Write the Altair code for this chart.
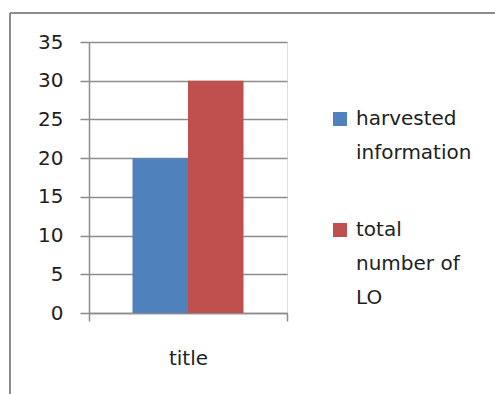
import altair as alt
import pandas as pd

# ---- data ----
categories = ["title"]
series = ["harvested information", "total number of LO"]
values = [20, 30]
legend_lines = {
    "harvested information": ["harvested", "information"],
    "total number of LO": ["total", "number of", "LO"],
}
y_ticks = [0, 5, 10, 15, 20, 25, 30, 35]
colors = ["#4F81BD", "#C0504D"]

df = pd.DataFrame({
    "category": [categories[0]] * len(series),
    "series": series,
    "value": values,
})

# labelExpr that breaks legend labels into lines
parts = []
for name, lines in legend_lines.items():
    arr = "[" + ", ".join("'" + l + "'" for l in lines) + "]"
    parts.append(f"datum.label == '{name}' ? {arr} : ")
label_expr = "".join(parts) + "datum.label"

FONT = "DejaVu Sans"
GRAY = "#8c8c8c"
TEXT = "#1e1e1e"

W, H = 198, 271
PAD_L, PAD_T = 89, 42
PAD_R = 495 - PAD_L - W
PAD_B = 394 - PAD_T - H

# square legend swatch whose bottom sits on the label baseline
SWATCH = "M-1,-1.86H1V0.14H-1Z"

bars = alt.Chart(df).mark_bar().encode(
    x=alt.X(
        "category:N",
        scale=alt.Scale(paddingInner=0, paddingOuter=0),
        axis=alt.Axis(
            title=None, labelAngle=0, tickBand="extent", tickSize=8,
            labelPadding=27, labelFont=FONT, labelFontSize=20, labelColor=TEXT,
            domainColor=GRAY, tickColor=GRAY, domainWidth=1.5, tickWidth=1.5,
            grid=False,
        ),
    ),
    xOffset=alt.XOffset(
        "series:N", sort=series,
        scale=alt.Scale(paddingInner=0, paddingOuter=0.784),
    ),
    y=alt.Y(
        "value:Q",
        scale=alt.Scale(domain=[0, 35], nice=False),
        axis=alt.Axis(
            title=None, values=y_ticks, grid=True, gridColor=GRAY, gridWidth=1.5,
            tickSize=9, labelPadding=17, labelFont=FONT, labelFontSize=20,
            labelColor=TEXT, domainColor=GRAY, tickColor=GRAY,
            domainWidth=1.5, tickWidth=1.5,
        ),
    ),
    color=alt.Color(
        "series:N", sort=series,
        scale=alt.Scale(domain=series, range=colors),
        legend=alt.Legend(
            title=None, orient="none", legendX=241, legendY=73,
            symbolType=SWATCH, symbolSize=196, symbolStrokeWidth=0,
            labelFont=FONT, labelFontSize=20, labelColor=TEXT,
            labelBaseline="alphabetic", labelOffset=6, labelLimit=300,
            rowPadding=57, padding=0,
            labelExpr=label_expr,
        ),
    ),
)

frame_data = alt.Data(values=[{}])
frame_left = alt.Chart(frame_data).mark_rule(color=GRAY, strokeWidth=2).encode(
    x=alt.value(10 - PAD_L), y=alt.value(13 - PAD_T), y2=alt.value(394 - PAD_T + 5)
)
frame_top = alt.Chart(frame_data).mark_rule(color=GRAY, strokeWidth=2).encode(
    x=alt.value(10 - PAD_L), x2=alt.value(495 - PAD_L + 5), y=alt.value(13 - PAD_T)
)

chart = alt.layer(bars, frame_left, frame_top).properties(
    width=W, height=H,
    autosize=alt.AutoSizeParams(type="none"),
    padding={"left": PAD_L, "top": PAD_T, "right": PAD_R, "bottom": PAD_B},
    background="white",
).configure_view(stroke=None).configure(
    style={"guide-label": {"lineHeight": 34}}
)

chart.save("out.html", embed_options={"renderer": "svg", "actions": False})
